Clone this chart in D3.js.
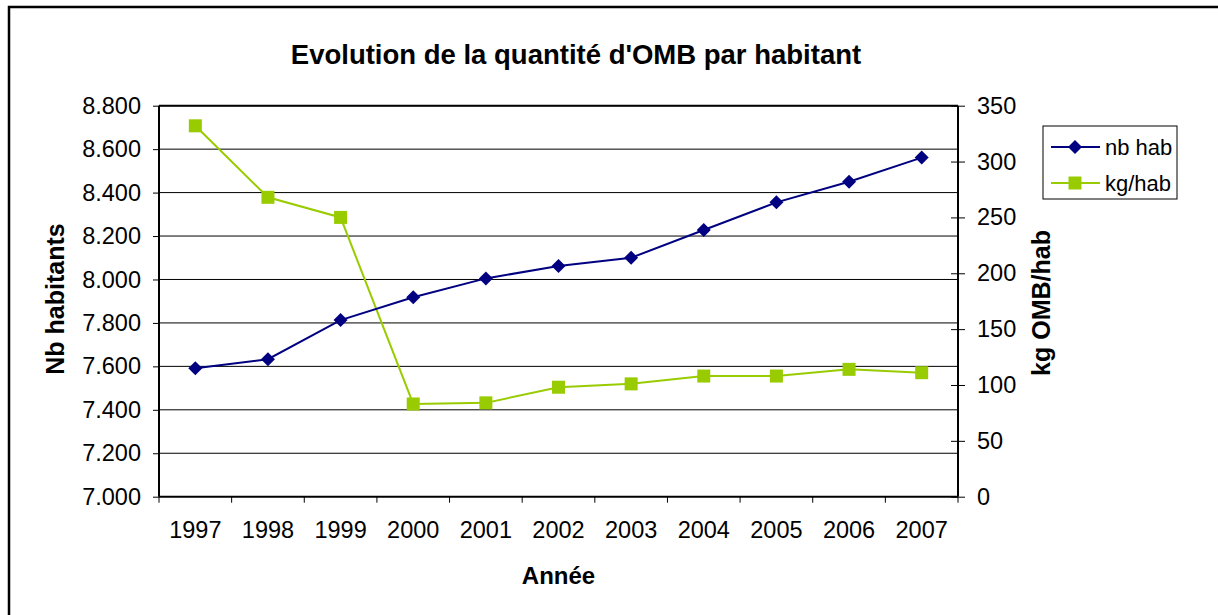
<!DOCTYPE html>
<html>
<head>
<meta charset="utf-8">
<script src="https://cdn.jsdelivr.net/npm/d3@7"></script>
<style>
  body { margin: 0; background: #fff; }
  svg { display: block; font-family: Arial, 'Liberation Sans', sans-serif; }
</style>
</head>
<body>
<svg id="chart" width="1218" height="615"></svg>
<script>
// Data
const YEARS = ['1997', '1998', '1999', '2000', '2001', '2002', '2003', '2004',
  '2005', '2006', '2007'];
const NB_HAB = [7591, 7633, 7813, 7918, 8005, 8062, 8100, 8228, 8355, 8450, 8561];
const KG_HAB = [332, 268, 250, 83, 84, 98, 101, 108, 108, 114, 111];
const LEFT_TICKS = [7000, 7200, 7400, 7600, 7800, 8000, 8200, 8400, 8600, 8800];
const RIGHT_TICKS = [0, 50, 100, 150, 200, 250, 300, 350];
const SERIES_NAMES = ['nb hab', 'kg/hab'];

// Constants
const WIDTH = 1218;
const HEIGHT = 615;
const PLOT = {left: 159, right: 958, top: 105.7, bottom: 496.7};
const NAVY = '#000080';
const LIME = '#99cc00';

// French style numbers: 8.800
const locale = d3.formatLocale({decimal: ',', thousands: '.', grouping: [3],
  currency: ['', ' €']});
const fmtThousands = locale.format(',.0f');

let svg = d3.select('#chart');

let x = d3.scaleBand()
    .domain(YEARS)
    .range([PLOT.left, PLOT.right]);
let yLeft = d3.scaleLinear()
    .domain([7000, 8800])
    .range([PLOT.bottom, PLOT.top]);
let yRight = d3.scaleLinear()
    .domain([0, 350])
    .range([PLOT.bottom, PLOT.top]);

function xCenter(year) {
  return x(year) + x.bandwidth() / 2;
}

// Outer chart border, runs off the right and bottom edges
svg.append('rect')
    .attr('x', 9).attr('y', 7)
    .attr('width', WIDTH + 20).attr('height', HEIGHT + 20)
    .attr('fill', 'none')
    .attr('stroke', '#000')
    .attr('stroke-width', 2.5);

function drawGrid() {
  svg.append('g')
    .selectAll('line')
    .data(LEFT_TICKS.slice(1))
    .join('line')
      .attr('x1', PLOT.left).attr('x2', PLOT.right)
      .attr('y1', d => yLeft(d)).attr('y2', d => yLeft(d))
      .attr('stroke', '#000')
      .attr('stroke-width', 1);
  // top edge of plot area
  svg.append('line')
      .attr('x1', PLOT.left).attr('x2', PLOT.right)
      .attr('y1', PLOT.top).attr('y2', PLOT.top)
      .attr('stroke', '#000').attr('stroke-width', 2);
}

function drawAxes() {
  let left = svg.append('g')
      .attr('transform', 'translate(' + PLOT.left + ',0)')
      .call(d3.axisLeft(yLeft).tickValues(LEFT_TICKS).tickSize(6)
        .tickPadding(12).tickFormat(fmtThousands));
  left.select('.domain').attr('stroke-width', 2).attr('d',
      'M0,' + PLOT.top + 'V' + PLOT.bottom);

  let right = svg.append('g')
      .attr('transform', 'translate(' + PLOT.right + ',0)')
      .call(d3.axisRight(yRight).tickValues(RIGHT_TICKS).tickSize(7)
        .tickPadding(12));
  right.select('.domain').attr('stroke-width', 2).attr('d',
      'M0,' + PLOT.top + 'V' + PLOT.bottom);
  // ticks cross the right axis
  right.selectAll('.tick line').attr('x1', -7).attr('x2', 7);

  let bottom = svg.append('g')
      .attr('transform', 'translate(0,' + PLOT.bottom + ')')
      .call(d3.axisBottom(x).tickSize(0).tickPadding(25));
  bottom.select('.domain').attr('stroke-width', 2).attr('d',
      'M' + PLOT.left + ',0H' + PLOT.right);
  // category boundary ticks
  let edges = YEARS.map(d => x(d)).concat([PLOT.right]);
  bottom.selectAll('.edge')
    .data(edges)
    .join('line')
      .attr('class', 'edge')
      .attr('x1', d => d).attr('x2', d => d)
      .attr('y1', 0).attr('y2', 6)
      .attr('stroke', '#000');

  svg.selectAll('.tick text')
      .attr('font-size', 23.5)
      .attr('fill', '#000')
      .attr('font-family', 'Arial, Liberation Sans, sans-serif');
}

function drawSeries() {
  let pts1 = YEARS.map((d, i) => [xCenter(d), yLeft(NB_HAB[i])]);
  let pts2 = YEARS.map((d, i) => [xCenter(d), yRight(KG_HAB[i])]);

  svg.append('path')
      .attr('d', d3.line()(pts2))
      .attr('fill', 'none').attr('stroke', LIME).attr('stroke-width', 2);
  svg.append('g').selectAll('rect')
    .data(pts2)
    .join('rect')
      .attr('x', d => d[0] - 6.5).attr('y', d => d[1] - 6.5)
      .attr('width', 13).attr('height', 13)
      .attr('fill', LIME);

  svg.append('path')
      .attr('d', d3.line()(pts1))
      .attr('fill', 'none').attr('stroke', NAVY).attr('stroke-width', 2);
  svg.append('g').selectAll('path')
    .data(pts1)
    .join('path')
      .attr('transform', d => 'translate(' + d[0] + ',' + d[1] + ')')
      .attr('d', 'M0,-7L7,0L0,7L-7,0Z')
      .attr('fill', NAVY);
}

function drawLabels() {
  svg.append('text')
      .attr('x', 576).attr('y', 64)
      .attr('text-anchor', 'middle')
      .attr('font-size', 27.5).attr('font-weight', 'bold')
      .text("Evolution de la quantité d'OMB par habitant");

  svg.append('text')
      .attr('x', (PLOT.left + PLOT.right) / 2).attr('y', 584)
      .attr('text-anchor', 'middle')
      .attr('font-size', 24).attr('font-weight', 'bold')
      .text('Année');

  svg.append('text')
      .attr('transform', 'translate(55,299) rotate(-90)')
      .attr('text-anchor', 'middle').attr('dy', '0.35em')
      .attr('font-size', 25).attr('font-weight', 'bold')
      .text('Nb habitants');

  svg.append('text')
      .attr('transform', 'translate(1041,303) rotate(-90)')
      .attr('text-anchor', 'middle').attr('dy', '0.35em')
      .attr('font-size', 25).attr('font-weight', 'bold')
      .text('kg OMB/hab');
}

function drawLegend() {
  let g = svg.append('g').attr('transform', 'translate(1043,126)');
  g.append('rect')
      .attr('width', 134).attr('height', 73)
      .attr('fill', '#fff').attr('stroke', '#000').attr('stroke-width', 1);

  let rows = g.selectAll('.row')
    .data(SERIES_NAMES)
    .join('g')
      .attr('class', 'row')
      .attr('transform', (d, i) => 'translate(0,' + (21 + i * 36) + ')');
  rows.append('line')
      .attr('x1', 8).attr('x2', 57)
      .attr('stroke', (d, i) => i ? LIME : NAVY).attr('stroke-width', 2);
  rows.append('path')
      .attr('transform', 'translate(32,0)')
      .attr('d', (d, i) => i ? 'M-6.5,-6.5H6.5V6.5H-6.5Z' : 'M0,-7L7,0L0,7L-7,0Z')
      .attr('fill', (d, i) => i ? LIME : NAVY);
  rows.append('text')
      .attr('x', 62).attr('dy', '0.35em')
      .attr('font-size', 22)
      .text(d => d);
}

drawGrid();
drawSeries();
drawAxes();
drawLabels();
drawLegend();
</script>
</body>
</html>
